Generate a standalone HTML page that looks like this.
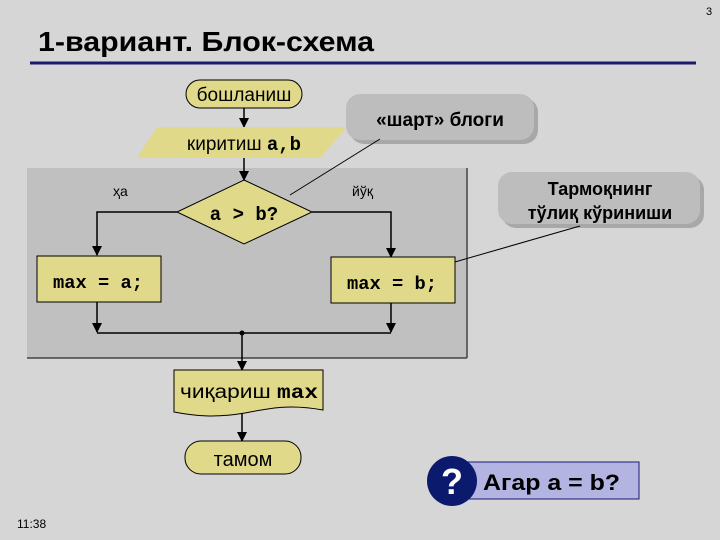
<!DOCTYPE html>
<html><head><meta charset="utf-8"><style>
body{margin:0;width:720px;height:540px;background:#d6d6d6;overflow:hidden}
svg{display:block}
</style></head><body>
<svg width="720" height="540" viewBox="0 0 720 540" xmlns="http://www.w3.org/2000/svg" font-family="Liberation Sans, sans-serif">
<defs>
<marker id="ar" markerWidth="10" markerHeight="10" refX="9" refY="5" orient="auto" markerUnits="userSpaceOnUse">
<path d="M0,0 L10,5 L0,10 z" fill="#000"/></marker>
</defs>
<rect width="720" height="540" fill="#d6d6d6"/>
<text x="706" y="15" font-size="11" fill="#000">3</text>
<text x="38" y="51" font-size="28" font-weight="bold" fill="#000" textLength="336" lengthAdjust="spacingAndGlyphs">1-вариант. Блок-схема</text>
<line x1="30" y1="63" x2="696" y2="63" stroke="#1a1a70" stroke-width="3"/>

<rect x="27" y="168" width="440" height="190" fill="#c0c0c0"/>
<line x1="27" y1="358" x2="467" y2="358" stroke="#444" stroke-width="1.5"/>
<line x1="467" y1="168" x2="467" y2="358" stroke="#444" stroke-width="1.5"/>

<rect x="350" y="98" width="188" height="46" rx="14" fill="#a8a8a8"/>
<rect x="346" y="94" width="188" height="46" rx="14" fill="#bdbdbd"/>
<line x1="380" y1="139" x2="290" y2="195" stroke="#000" stroke-width="1"/>
<text x="440" y="126" font-size="19" font-weight="bold" text-anchor="middle">«шарт» блоги</text>

<rect x="502" y="176" width="202" height="52" rx="14" fill="#a8a8a8"/>
<rect x="498" y="172" width="202" height="52" rx="14" fill="#bdbdbd"/>
<line x1="580" y1="226" x2="427" y2="270" stroke="#000" stroke-width="1"/>
<text x="600" y="195" font-size="18" font-weight="bold" text-anchor="middle">Тармоқнинг</text>
<text x="600" y="219" font-size="18" font-weight="bold" text-anchor="middle">тўлиқ кўриниши</text>

<rect x="186" y="80" width="116" height="28" rx="14" fill="#e0d98a" stroke="#000"/>
<text x="244" y="101" font-size="19" text-anchor="middle">бошланиш</text>
<line x1="244" y1="108" x2="244" y2="127" stroke="#000" stroke-width="1.5" marker-end="url(#ar)"/>

<polygon points="157,127 347,127 320,158 137,158" fill="#e0d98a"/>
<text x="244" y="150" font-size="19" text-anchor="middle">киритиш <tspan font-family="Liberation Mono, monospace" font-weight="bold">a,b</tspan></text>
<line x1="244" y1="158" x2="244" y2="180" stroke="#000" stroke-width="1.5" marker-end="url(#ar)"/>

<polygon points="244,180 312,212 244,244 177,212" fill="#e0d98a" stroke="#000"/>
<text x="244" y="220" font-size="19" font-weight="bold" font-family="Liberation Mono, monospace" text-anchor="middle">a &gt; b?</text>
<text x="113" y="196" font-size="14">ҳа</text>
<text x="352" y="196" font-size="14">йўқ</text>

<polyline points="177,212 97,212 97,255" fill="none" stroke="#000" stroke-width="1.5" marker-end="url(#ar)"/>
<polyline points="312,212 391,212 391,257" fill="none" stroke="#000" stroke-width="1.5" marker-end="url(#ar)"/>

<rect x="37" y="256" width="124" height="46" fill="#e0d98a" stroke="#000"/>
<text x="98" y="288" font-size="18" font-weight="bold" font-family="Liberation Mono, monospace" text-anchor="middle" textLength="90" lengthAdjust="spacingAndGlyphs">max = a;</text>
<rect x="331" y="257" width="124" height="46" fill="#e0d98a" stroke="#000"/>
<text x="392" y="289" font-size="18" font-weight="bold" font-family="Liberation Mono, monospace" text-anchor="middle" textLength="90" lengthAdjust="spacingAndGlyphs">max = b;</text>

<line x1="97" y1="302" x2="97" y2="332" stroke="#000" stroke-width="1.5" marker-end="url(#ar)"/>
<line x1="391" y1="303" x2="391" y2="332" stroke="#000" stroke-width="1.5" marker-end="url(#ar)"/>
<line x1="97" y1="333" x2="391" y2="333" stroke="#000" stroke-width="1.5"/>
<circle cx="242" cy="333" r="2.5" fill="#000"/>
<line x1="242" y1="333" x2="242" y2="370" stroke="#000" stroke-width="1.5" marker-end="url(#ar)"/>

<path d="M174,370 L323,370 L323,410 C290,404 270,408 245,413 C215,418 195,416 174,412 Z" fill="#e0d98a" stroke="#000"/>
<text x="180" y="398" font-size="19" textLength="138" lengthAdjust="spacingAndGlyphs">чиқариш <tspan font-family="Liberation Mono, monospace" font-weight="bold">max</tspan></text>
<line x1="242" y1="413" x2="242" y2="441" stroke="#000" stroke-width="1.5" marker-end="url(#ar)"/>
<rect x="185" y="441" width="116" height="33" rx="16" fill="#e0d98a" stroke="#000"/>
<text x="243" y="466" font-size="20" text-anchor="middle">тамом</text>

<rect x="460" y="462" width="179" height="37" fill="#b4b4e2" stroke="#1a1a70"/>
<circle cx="452" cy="481" r="25" fill="#0c1a6e"/>
<text x="452" y="494" font-size="36" font-weight="bold" fill="#fff" text-anchor="middle">?</text>
<text x="483" y="490" font-size="22" font-weight="bold" textLength="137" lengthAdjust="spacingAndGlyphs">Агар  a = b?</text>

<text x="17" y="528" font-size="12">11:38</text>
</svg>
</body></html>
